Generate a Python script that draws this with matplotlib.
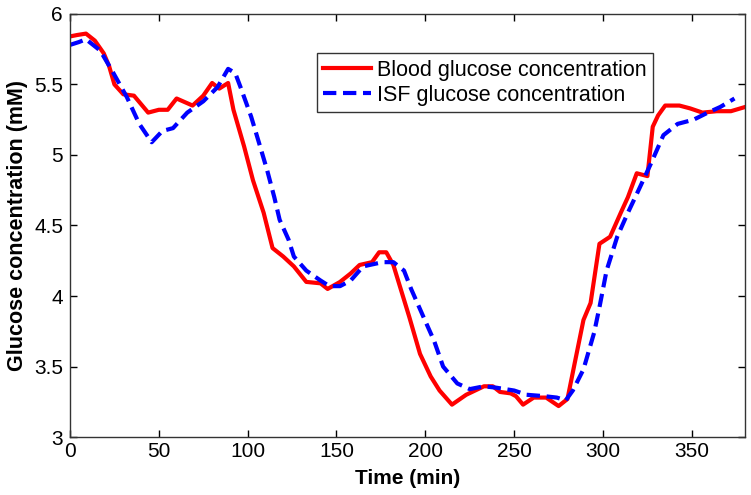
import matplotlib.pyplot as plt

plt.rcParams['font.family'] = ['Liberation Sans', 'DejaVu Sans']

# Blood glucose (red)
t_blood = [0, 4, 9, 14, 19, 22, 25, 30, 36, 44, 50, 55, 60, 69, 75, 80, 84, 89, 92, 98,
           103, 109, 112, 114, 120, 126, 133, 141, 145, 152, 158, 163, 170, 174, 178, 182,
           191, 197, 203, 208, 215, 223, 233, 238, 242, 248, 251, 255, 261, 268, 275, 280,
           284, 289, 293, 298, 304, 310, 314, 319, 325, 328, 331, 335, 343, 349, 356, 364,
           372, 380]
g_blood = [5.84, 5.85, 5.86, 5.81, 5.72, 5.63, 5.50, 5.43, 5.42, 5.30, 5.32, 5.32, 5.40,
           5.35, 5.42, 5.51, 5.47, 5.51, 5.32, 5.06, 4.82, 4.59, 4.44, 4.34, 4.28, 4.21,
           4.10, 4.09, 4.05, 4.10, 4.16, 4.22, 4.24, 4.31, 4.31, 4.22, 3.85, 3.59, 3.43,
           3.33, 3.23, 3.30, 3.36, 3.36, 3.32, 3.31, 3.29, 3.23, 3.28, 3.28, 3.22, 3.27,
           3.52, 3.83, 3.95, 4.37, 4.42, 4.59, 4.70, 4.87, 4.85, 5.20, 5.28, 5.35, 5.35,
           5.33, 5.30, 5.31, 5.31, 5.34]

# ISF glucose (blue, dashed)
t_isf = [0, 5, 9, 17, 24, 32, 39, 46, 52, 58, 66, 75, 83, 89, 93, 96, 102, 107, 111, 115,
         118, 123, 126, 133, 141, 146, 152, 158, 165, 176, 182, 188, 192, 199, 205, 210,
         218, 225, 233, 240, 250, 257, 267, 274, 279, 283, 289, 295, 298, 302, 308, 314,
         320, 327, 334, 342, 351, 359, 366, 374]
g_isf = [5.78, 5.80, 5.82, 5.74, 5.59, 5.41, 5.22, 5.09, 5.17, 5.19, 5.30, 5.38, 5.48,
         5.61, 5.58, 5.48, 5.27, 5.06, 4.89, 4.70, 4.54, 4.40, 4.28, 4.18, 4.11, 4.07,
         4.07, 4.11, 4.21, 4.24, 4.24, 4.18, 4.05, 3.85, 3.68, 3.50, 3.38, 3.34, 3.36,
         3.35, 3.33, 3.30, 3.29, 3.28, 3.26, 3.33, 3.48, 3.74, 3.92, 4.18, 4.42, 4.59,
         4.75, 4.94, 5.14, 5.22, 5.25, 5.30, 5.34, 5.40]

fig = plt.figure(figsize=(7.51, 4.95), dpi=100)
ax = fig.add_axes([0.0932, 0.117, 0.899, 0.855])

ax.plot(t_blood, g_blood, color='red', lw=3, label='Blood glucose concentration')
ax.plot(t_isf, g_isf, color='blue', lw=3, dashes=(3.2, 1.6), label='ISF glucose concentration')

ax.set_xlim(0, 380)
ax.set_ylim(3, 6)
ax.set_xticks([0, 50, 100, 150, 200, 250, 300, 350])
ax.set_yticks([3, 3.5, 4, 4.5, 5, 5.5, 6])
ax.set_yticklabels(['3', '3.5', '4', '4.5', '5', '5.5', '6'])
ax.tick_params(direction='in', top=True, right=True, length=5, labelsize=15, width=1)
ax.tick_params(axis='y', pad=5)
for s in ax.spines.values():
    s.set_linewidth(1)
    s.set_color('#333333')

ax.set_xlabel('Time (min)', fontsize=15, fontweight='bold', labelpad=6)
ax.set_ylabel('Glucose concentration (mM)', fontsize=15.5, fontweight='bold', labelpad=4)

leg = ax.legend(loc='upper left', bbox_to_anchor=(0.3655, 0.907), borderaxespad=0,
                fancybox=False, edgecolor='black', fontsize=15.5, handlelength=2.2,
                borderpad=0.3, labelspacing=0.2, handletextpad=0.3)
leg.get_frame().set_linewidth(1)

plt.savefig('out.png', dpi=100)
